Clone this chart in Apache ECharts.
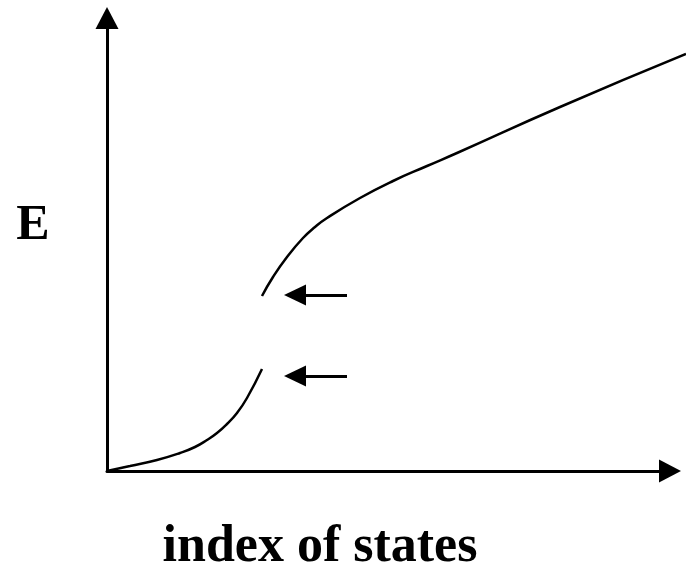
<!DOCTYPE html>
<html lang="en">
<head>
    <meta charset="UTF-8">
    <title>E vs index of states</title>
    <script src="https://cdn.jsdelivr.net/npm/echarts@6/dist/echarts.min.js"></script>
</head>
<style>
    html, body {
        margin: 0;
        height: 100%;
        background: #fff;
    }
</style>
<body>
<div id="main" style="width: 686px;height:567px"></div>
<script type="text/javascript">
    // values (x: index of states, y: E), arbitrary units
    var lowerX = [0, 23, 50, 73, 88, 100, 110, 120, 130, 140, 155];
    var lowerY = [0, 5, 11, 18, 24, 31, 38, 47, 58, 73, 102];
    var upperX = [155, 166, 180, 196, 208, 220, 253, 286, 320, 350, 453, 579];
    var upperY = [175, 194, 214, 233, 244, 253, 273, 290, 305, 318, 364, 417];
    // the two gap markers: level E and where the arrow starts/ends
    var markLevels = [176, 95];
    var markFrom = 240, markTo = 188;

    function pairs(xs, ys) {
        var out = [];
        for (var i = 0; i < xs.length; i++) out.push([xs[i], ys[i]]);
        return out;
    }

    var font = '"Liberation Serif", "Times New Roman", serif';
    var myChart = echarts.init(document.getElementById('main'));

    var arrowLines = markLevels.map(function (lv) {
        return [{coord: [markFrom, lv]}, {coord: [markTo, lv]}];
    });

    var hidden = {
        axisLine: {show: false}, axisTick: {show: false},
        axisLabel: {show: false}, splitLine: {show: false}
    };
    var arrowAxisLine = {
        show: true, onZero: false,
        symbol: ['none', 'triangle'], symbolSize: [23, 22],
        lineStyle: {color: '#000', width: 3}
    };

    var option = {
        animation: false,
        // grid 0 carries the drawn axes, grid 1 the curve (it runs to the right edge)
        grid: [
            {left: 107, right: 16, top: 18, bottom: 96},
            {left: 107, right: 0, top: 18, bottom: 96}
        ],
        xAxis: [
            Object.assign({}, hidden, {type: 'value', min: 0, max: 563, gridIndex: 0, axisLine: arrowAxisLine}),
            Object.assign({}, hidden, {type: 'value', min: 0, max: 579, gridIndex: 1})
        ],
        yAxis: [
            Object.assign({}, hidden, {type: 'value', min: 0, max: 453, gridIndex: 0, axisLine: arrowAxisLine}),
            Object.assign({}, hidden, {type: 'value', min: 0, max: 453, gridIndex: 1})
        ],
        graphic: [
            {type: 'text', x: 33, y: 226, style: {text: 'E', font: 'bold 50px ' + font, fill: '#000', textAlign: 'center', textVerticalAlign: 'middle'}},
            {type: 'text', x: 320, y: 548, style: {text: 'index of states', font: 'bold 52px ' + font, fill: '#000', textAlign: 'center', textVerticalAlign: 'middle'}}
        ],
        series: [
            {
                type: 'line', xAxisIndex: 1, yAxisIndex: 1,
                data: pairs(lowerX, lowerY), smooth: 0.5, showSymbol: false, clip: false,
                lineStyle: {color: '#000', width: 2.5}
            },
            {
                type: 'line', xAxisIndex: 1, yAxisIndex: 1,
                data: pairs(upperX, upperY), smooth: 0.5, showSymbol: false, clip: false,
                lineStyle: {color: '#000', width: 2.5},
                markLine: {
                    silent: true, symbol: ['none', 'triangle'], symbolSize: [21, 22],
                    label: {show: false},
                    lineStyle: {color: '#000', width: 3, type: 'solid'},
                    data: arrowLines
                }
            }
        ]
    };
    myChart.setOption(option);
</script>
</body>
</html>
